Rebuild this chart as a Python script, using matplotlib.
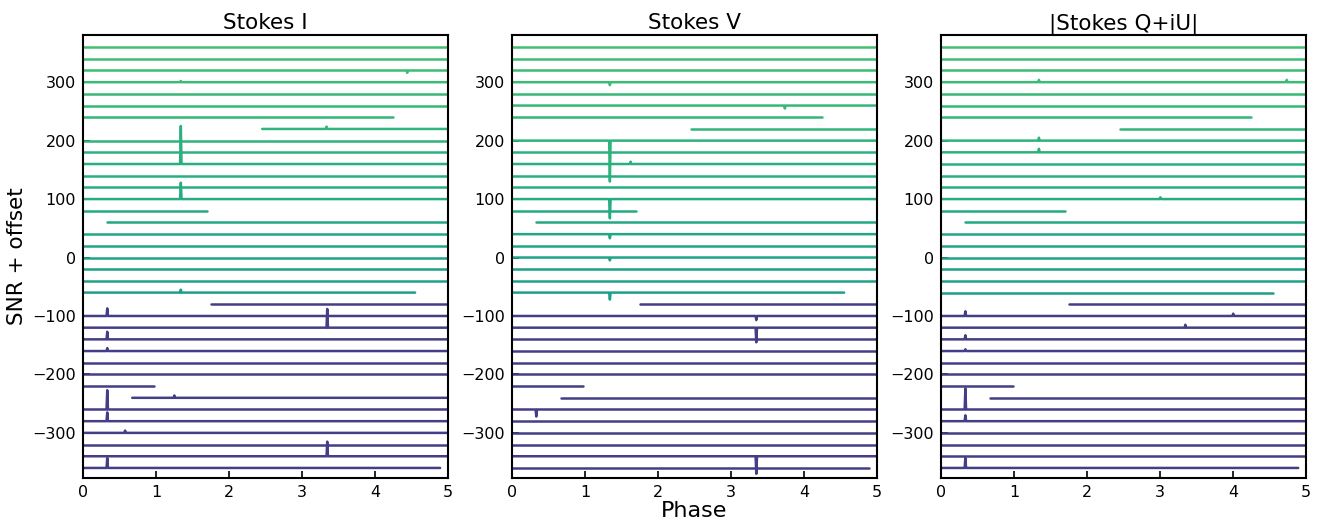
import numpy as np
import matplotlib
matplotlib.use('Agg')
import matplotlib.pyplot as plt

# offsets of each folded profile (SNR units), top to bottom
offsets = [360, 340, 320, 300, 280, 260, 240, 220, 200, 180, 160, 140, 120,
           100, 80, 60, 40, 20, 0, -20, -40, -60,
           -80, -100, -120, -140, -160, -180, -200, -220, -240, -260, -280,
           -300, -320, -340, -360]
n_green = 22  # first group of observations

# partial coverage: phase where a profile starts / ends
phase_start = {220: 2.45, 60: 0.33, -80: 1.75, -240: 0.67}
phase_end = {240: 4.25, 80: 1.70, -60: 4.55, -220: 0.98, -360: 4.90}

# single pulses: (offset, phase, SNR)
spikes_I = [(300, 1.34, 2), (220, 3.34, 4), (320, 4.44, -4), (160, 1.34, 65),
            (100, 1.34, 28), (-60, 1.34, 5), (-100, 0.33, 13), (-120, 3.35, 32),
            (-140, 0.33, 13), (-160, 0.33, 5), (-240, 1.25, 4), (-260, 0.33, 33),
            (-280, 0.33, 15), (-300, 0.58, 4), (-340, 3.35, 25), (-360, 0.33, 17)]
spikes_V = [(300, 1.34, -5), (260, 3.74, -5), (200, 1.34, -70), (160, 1.62, 4),
            (100, 1.34, -33), (40, 1.34, -7), (0, 1.34, -5), (-60, 1.34, -12),
            (-100, 3.35, -7), (-120, 3.35, -25), (-260, 0.33, -12), (-340, 3.35, -30)]
spikes_L = [(300, 1.34, 4), (300, 4.74, 4), (200, 1.34, 5), (180, 1.34, 6),
            (100, 3.0, 3), (-100, 0.33, 8), (-100, 4.0, 4), (-120, 3.35, 5),
            (-140, 0.33, 7), (-160, 0.33, 3), (-260, 0.33, 36), (-280, 0.33, 10),
            (-360, 0.33, 17)]

titles = ['Stokes I', 'Stokes V', '|Stokes Q+iU|']
panel_spikes = [spikes_I, spikes_V, spikes_L]

phase = np.linspace(0, 5, 512)

cmap = plt.get_cmap('viridis')
colors = [cmap(0.70 - 0.14 * i / (n_green - 1)) for i in range(n_green)]
colors += [cmap(0.18)] * (len(offsets) - n_green)

fig = plt.figure(figsize=(13.21, 5.2), dpi=100)
left0, width, gap = 0.0628, 0.2763, 0.0485
axes = [fig.add_axes([left0 + i * (width + gap), 0.081, width, 0.852]) for i in range(3)]

for ax, title, spikes in zip(axes, titles, panel_spikes):
    for off, col in zip(offsets, colors):
        prof = np.full_like(phase, float(off))
        for s_off, s_ph, s_snr in spikes:
            if s_off == off:
                prof[np.argmin(np.abs(phase - s_ph))] += s_snr
        mask = (phase >= phase_start.get(off, 0)) & (phase <= phase_end.get(off, 5))
        ax.plot(phase[mask], prof[mask], color=col, lw=1.8,
                solid_joinstyle='round', solid_capstyle='round')
    ax.set_xlim(0, 5)
    ax.set_ylim(-377, 381)
    ax.set_title(title, fontsize=15.5, pad=4)
    ax.set_xticks([0, 1, 2, 3, 4, 5])
    ax.set_yticks([-300, -200, -100, 0, 100, 200, 300])
    ax.tick_params(direction='in', length=5, width=1.2, labelsize=11.5, pad=5)
    for sp in ax.spines.values():
        sp.set_linewidth(1.5)

axes[0].set_ylabel('SNR + offset', fontsize=15.5)
axes[1].set_xlabel('Phase', fontsize=16, labelpad=1)

fig.savefig('out.png', dpi=100)
